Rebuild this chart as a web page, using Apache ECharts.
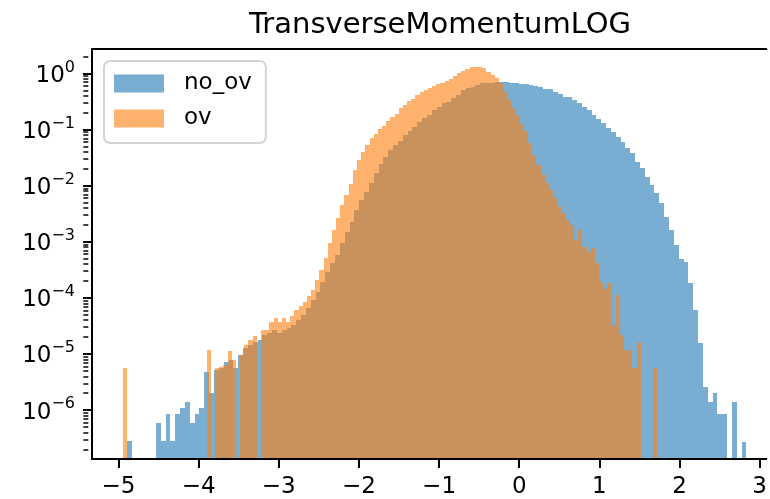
<!DOCTYPE html>
<html>
<head>
<meta charset="utf-8">
<script src="https://cdn.jsdelivr.net/npm/echarts@6/dist/echarts.min.js"></script>
<style>
  html, body { margin: 0; padding: 0; background: #fff; }
  #main { width: 770px; height: 499px; }
</style>
</head>
<body>
<div id="main"></div>
<script>
// histogram densities, stored as log10 of the bin height (null = empty bin)
var binCount = 128;
var noOvRange = [-4.895, 2.835];
var ovRange = [-4.94, 1.725];

var noOvLog10 = [
	-6.56, null, null, null, null, null, -6.23, -6.56, -6.07, -6.56,
	-6.07, -5.96, -5.86, -6.23, -6.07, -5.96, -5.32, -5.70, -5.29, -5.25,
	-5.14, -5.10, -5.25, -5.02, -4.89, -4.84, -4.79, -4.75, -4.66, -4.63,
	-4.57, -4.63, -4.57, -4.54, -4.48, -4.39, -4.30, -4.18, -4.04, -3.89,
	-3.72, -3.54, -3.38, -3.24, -3.02, -2.83, -2.65, -2.43, -2.25, -2.11,
	-1.95, -1.77, -1.61, -1.49, -1.36, -1.27, -1.20, -1.10, -1.02, -0.95,
	-0.86, -0.79, -0.74, -0.65, -0.60, -0.53, -0.51, -0.44, -0.38, -0.29,
	-0.26, -0.24, -0.20, -0.17, -0.17, -0.17, -0.16, -0.16, -0.16, -0.17,
	-0.17, -0.18, -0.19, -0.20, -0.22, -0.24, -0.28, -0.28, -0.33, -0.37,
	-0.42, -0.42, -0.47, -0.53, -0.60, -0.65, -0.74, -0.81, -0.88, -0.97,
	-1.04, -1.13, -1.22, -1.33, -1.42, -1.58, -1.68, -1.84, -1.99, -2.13,
	-2.31, -2.56, -2.79, -3.06, -3.30, -3.36, -3.73, -4.22, -4.80, -5.59,
	-5.86, -5.70, -6.07, -6.07, null, -5.86, null, -6.57
];

var ovLog10 = [
	-5.25, null, null, null, null, null, null, null, null, null,
	null, null, null, null, null, null, null, null, null, null,
	-4.93, null, -5.25, -5.23, -5.20, -4.95, -5.10, null, -5.02, -4.84,
	-4.75, -4.68, null, -4.57, -4.57, -4.43, -4.36, -4.43, -4.36, -4.43,
	-4.32, -4.22, -4.14, -4.07, -3.97, -3.86, -3.68, -3.50, -3.29, -3.02,
	-2.79, -2.58, -2.34, -2.17, -1.97, -1.72, -1.54, -1.40, -1.27, -1.15,
	-1.08, -0.99, -0.94, -0.85, -0.78, -0.72, -0.61, -0.56, -0.49, -0.45,
	-0.38, -0.33, -0.29, -0.26, -0.22, -0.19, -0.17, -0.13, -0.10, -0.04,
	0.01, 0.04, 0.08, 0.12, 0.12, 0.12, 0.10, 0.03, -0.03, -0.08,
	-0.17, -0.33, -0.47, -0.61, -0.74, -0.90, -1.02, -1.24, -1.45, -1.63,
	-1.81, -1.95, -2.08, -2.22, -2.38, -2.49, -2.61, -2.70, -2.97, -2.79,
	-3.09, -3.18, -3.11, -3.38, -3.72, -3.85, -3.73, -4.50, -3.95, -4.66,
	-4.93, -4.93, -5.25, -4.79, null, null, null, -5.25
];

var xTicks = [-5, -4, -3, -2, -1, 0, 1, 2, 3];
var yTicks = [1e-6, 1e-5, 1e-4, 1e-3, 1e-2, 1e-1, 1];
var yMin = Math.pow(10, -6.872);
var yMax = Math.pow(10, 0.437);

var yMinor = [];
for (var p = -7; p <= 0; p++) {
	for (var m = 2; m <= 9; m++) {
		var v = m * Math.pow(10, p);
		if (v > yMin && v < yMax) yMinor.push(v);
	}
}

// [left edge, right edge, height] for every non-empty bin
function toBars(logs, range) {
	var w = (range[1] - range[0]) / binCount;
	var out = [];
	logs.forEach(function(l, i) {
		if (l === null) return;
		out.push([range[0] + i * w, range[0] + (i + 1) * w, Math.pow(10, l)]);
	});
	return out;
}

// snap edges to whole pixels so neighbouring bins don't leave hairline gaps
function renderBar(params, api) {
	var top = api.coord([api.value(0), api.value(2)]);
	var bottom = api.coord([api.value(1), yMin]);
	var x0 = Math.round(top[0]), x1 = Math.round(bottom[0]);
	var y0 = Math.round(top[1]), y1 = Math.round(bottom[1]);
	return {
		type: 'rect',
		shape: { x: x0, y: y0, width: x1 - x0, height: y1 - y0 },
		style: { fill: api.visual('color') }
	};
}

var supDigits = function(val) {
	var e = Math.round(Math.log10(val));
	var s = String(e).replace('-', '\u2212');
	return '{b|10}{s|' + s + '}';
};

var fontFam = 'DejaVu Sans';
var gridLeft = 92;
var chartW = 770;
var myChart = echarts.init(document.getElementById('main'), null, { renderer: 'canvas' });

var option = {
	animation: false,
	backgroundColor: '#fff',
	title: {
		text: 'TransverseMomentumLOG',
		left: 435,
		textAlign: 'center',
		top: 6,
		textStyle: { fontFamily: fontFam, fontSize: 29, fontWeight: 'normal', color: '#000' }
	},
	legend: {
		orient: 'vertical',
		left: 104,
		top: 61,
		icon: 'rect',
		itemWidth: 50,
		itemHeight: 18,
		itemGap: 12,
		padding: [11, 14, 13, 10],
		borderColor: '#d4d4d4',
		borderWidth: 2,
		borderRadius: 6,
		backgroundColor: 'rgba(255,255,255,0.8)',
		textStyle: { fontFamily: fontFam, fontSize: 23, color: '#000', padding: [0, 0, 0, 15] },
		data: ['no_ov', 'ov']
	},
	grid: {
		left: gridLeft,
		right: 0,
		top: 49,
		bottom: 40
	},
	xAxis: [{
		type: 'value',
		min: -5.33,
		max: 3.083,
		z: 3,
		splitLine: { show: false },
		axisLine: { show: true, onZero: false, lineStyle: { color: '#000', width: 2 } },
		axisTick: { customValues: xTicks, length: 9, lineStyle: { color: '#000', width: 2 } },
		axisLabel: {
			customValues: xTicks,
			margin: 17,
			fontFamily: fontFam,
			fontSize: 23,
			color: '#000',
			formatter: function(v) { return String(v).replace('-', '\u2212'); }
		}
	}, {
		// top spine only
		type: 'value',
		position: 'top',
		min: -5.33,
		max: 3.083,
		z: 3,
		splitLine: { show: false },
		axisLine: { show: true, onZero: false, lineStyle: { color: '#000', width: 2 } },
		axisTick: { show: false },
		axisLabel: { show: false }
	}],
	yAxis: [{
		type: 'log',
		logBase: 10,
		min: yMin,
		max: yMax,
		z: 3,
		splitLine: { show: false },
		axisLine: { show: true, onZero: false, lineStyle: { color: '#000', width: 2 } },
		axisTick: { customValues: yTicks, length: 9, lineStyle: { color: '#000', width: 2 } },
		axisLabel: {
			customValues: yTicks,
			margin: 17,
			formatter: supDigits,
			rich: {
				b: { fontFamily: fontFam, fontSize: 23, color: '#000', verticalAlign: 'bottom' },
				s: { fontFamily: fontFam, fontSize: 16, color: '#000', verticalAlign: 'bottom', padding: [0, 0, 12, 0] }
			}
		}
	}, {
		// minor ticks: a right-side axis pulled back onto the left spine
		type: 'log',
		logBase: 10,
		min: yMin,
		max: yMax,
		position: 'right',
		offset: -(chartW - gridLeft),
		z: 3,
		splitLine: { show: false },
		axisLine: { show: false, onZero: false },
		axisLabel: { show: false },
		axisTick: { customValues: yMinor, inside: true, length: 5, lineStyle: { color: '#000', width: 1.5 } }
	}],
	series: [{
		name: 'no_ov',
		type: 'custom',
		renderItem: renderBar,
		encode: { x: [0, 1], y: 2 },
		itemStyle: { color: 'rgba(31,119,180,0.6)' },
		silent: true,
		data: toBars(noOvLog10, noOvRange)
	}, {
		name: 'ov',
		type: 'custom',
		renderItem: renderBar,
		encode: { x: [0, 1], y: 2 },
		itemStyle: { color: 'rgba(255,127,14,0.6)' },
		silent: true,
		data: toBars(ovLog10, ovRange)
	}]
};

myChart.setOption(option);
</script>
</body>
</html>
